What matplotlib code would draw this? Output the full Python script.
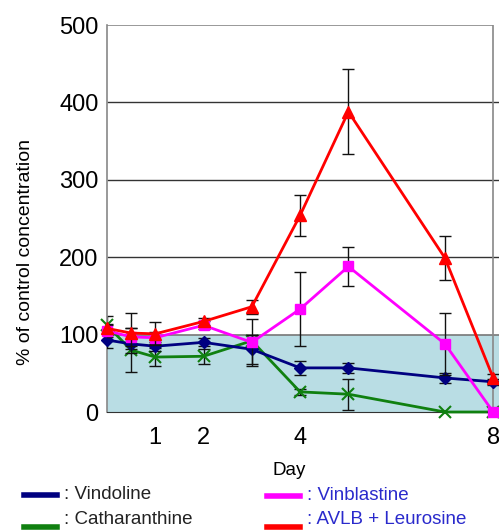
import matplotlib.pyplot as plt
from matplotlib.patches import Rectangle

plt.rcParams['font.family'] = ['Liberation Sans', 'DejaVu Sans']

days = [0, 0.5, 1, 2, 3, 4, 5, 7, 8]

vindoline = [93, 88, 85, 90, 81, 57, 57, 44, 39]
vindoline_err = [10, 6, 6, 5, 19, 9, 6, 6, 4]

catharanthine = [112, 80, 71, 72, 92, 26, 23, 0, 0]
catharanthine_err = [12, 28, 12, 10, 8, 4, 20, 0, 0]

vinblastine = [105, 97, 96, 112, 90, 133, 188, 88, 0]
vinblastine_err = [8, 12, 8, 5, 30, 48, 25, 40, 0]

avlb = [108, 102, 101, 117, 136, 254, 388, 199, 44]
avlb_err = [6, 26, 15, 4, 9, 26, 55, 29, 5]

xticks = [1, 2, 4, 8]
yticks = [0, 100, 200, 300, 400, 500]

fig = plt.figure(figsize=(4.99, 5.31), dpi=100)
ax = fig.add_axes([0.2144, 0.2241, 0.7856, 0.7288])

ax.set_xlim(0, 8.12)
ax.set_ylim(0, 500)

# shaded control zone
ax.add_patch(Rectangle((0, 0), 8.12, 100, facecolor='#b9dde4', edgecolor='none', zorder=0))
ax.hlines(100, 0, 8.12, color='#777777', lw=1.2, zorder=1)
for y in [200, 300, 400]:
    ax.hlines(y, 0, 8.12, color='#333333', lw=1, zorder=1)
ax.hlines(500, 0, 8, color='#888888', lw=1.2, zorder=1)
ax.vlines(8, 0, 500, color='#888888', lw=1.2, zorder=1)

series = [
    (catharanthine, catharanthine_err, '#108010', 'x', 8),
    (vindoline, vindoline_err, '#000080', 'D', 6),
    (vinblastine, vinblastine_err, '#ff00ff', 's', 7),
    (avlb, avlb_err, '#ff0000', '^', 8),
]
for i, (vals, err, col, mk, ms) in enumerate(series):
    ax.errorbar(days, vals, yerr=err, fmt='none', ecolor='#111111', elinewidth=1,
                capsize=4, capthick=1, zorder=2 + i)
    ax.plot(days, vals, color=col, lw=2, marker=mk, ms=ms, mew=1.5 if mk == 'x' else 1,
            mec=col, mfc=col, zorder=3 + i, clip_on=False)

ax.spines['right'].set_visible(False)
ax.spines['top'].set_visible(False)
ax.spines['left'].set_color('#888888')
ax.spines['left'].set_linewidth(1.2)
ax.spines['bottom'].set_color('#333333')

ax.set_xticks(xticks)
ax.set_yticks(yticks)
ax.tick_params(axis='both', length=0, labelsize=17)
ax.tick_params(axis='y', pad=6)
ax.tick_params(axis='x', pad=11)

fig.text(0.052, 0.526, '% of control concentration', fontsize=14, rotation=90,
         ha='center', va='center')
fig.text(0.58, 0.113, 'Day', fontsize=13.5, ha='center', va='center')

# legend
def legend_row(x, y_line, y_text, color, label, label_color):
    fig.add_artist(plt.Line2D([x, x + 0.066], [y_line, y_line], color=color, lw=4,
                              transform=fig.transFigure))
    fig.text(x + 0.08, y_text, ': ' + label, fontsize=13.5, va='center', color=label_color)

legend_row(0.048, 0.068, 0.068, '#000080', 'Vindoline', '#222222')
legend_row(0.048, 0.008, 0.021, '#108010', 'Catharanthine', '#222222')
legend_row(0.535, 0.066, 0.066, '#ff00ff', 'Vinblastine', '#2a2acc')
legend_row(0.535, 0.008, 0.021, '#ff0000', 'AVLB + Leurosine', '#2a2acc')

fig.savefig('out.png', dpi=100)
